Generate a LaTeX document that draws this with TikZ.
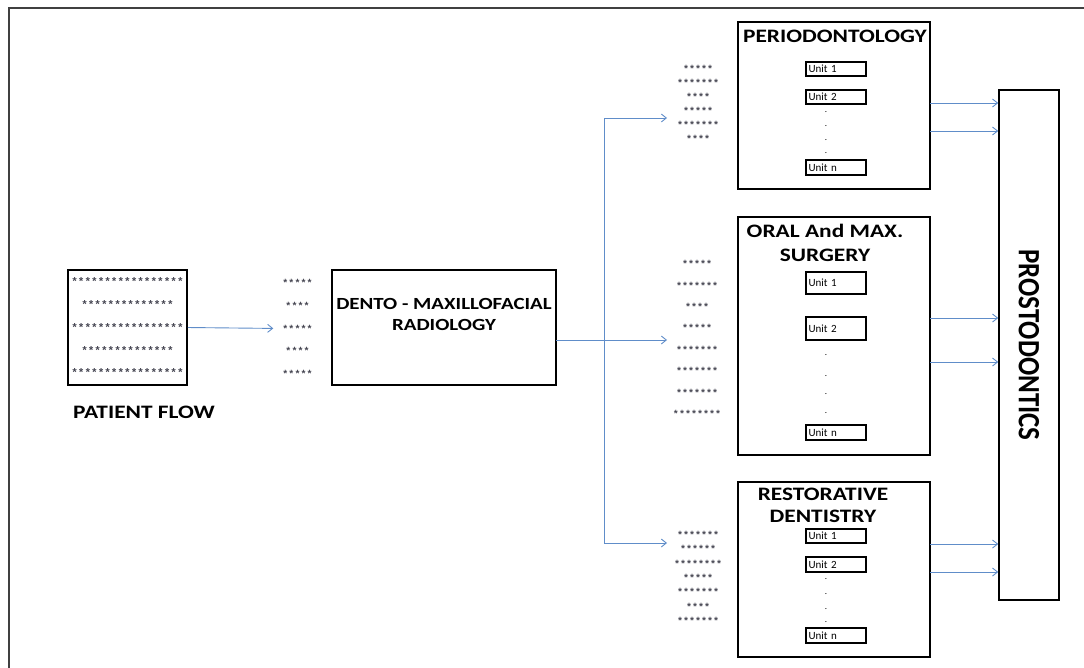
\documentclass[tikz,border=0pt]{standalone}
\usepackage{fontspec}
\usepackage{graphicx}
\setmainfont{Carlito}
\newfontfamily\starfont{Liberation Mono}
\usetikzlibrary{arrows.meta}
\definecolor{flowblue}{RGB}{96,141,201}
\definecolor{stargray}{RGB}{70,70,82}

\begin{document}
\begin{tikzpicture}[scale=0.3514]\tikzstyle{every node}+=[inner sep=0pt]
	  \tikzstyle{box}=[draw=black, line width=1.6pt, rectangle]
	  \tikzstyle{unit}=[draw=black, line width=1.2pt, rectangle, minimum width=60pt, text width=55pt, inner xsep=2.5pt, align=left, font=\fontsize{11}{11}\selectfont]
	  \tikzstyle{title}=[align=center, xscale=1.23, font=\bfseries\fontsize{19}{24}\selectfont]
	  \tikzstyle{stars}=[align=center, text=stargray]
	  \tikzstyle{flow}=[draw=flowblue, line width=0.9pt, -{Straight Barb[length=5pt,width=8pt]}]
	  \useasboundingbox (0,0) rectangle (108.4,-66.8);
	  \draw [line width=1.6pt, black!75] (108.4,-0.8) -- (0.9,-0.8) -- (0.9,-66.8);
	  % patient flow
	  \node [box, minimum width=119pt, minimum height=115pt, stars, font=\starfont\bfseries\fontsize{11}{22.75}\selectfont] (patient) at (12.75,-32.75)
	    {*****************\\**************\\*****************\\**************\\*****************};
	  \node [anchor=west, xscale=1.23, font=\bfseries\fontsize{19}{24}\selectfont] (pflabel) at (7.3,-41.2) {PATIENT FLOW};
	  \node [stars, font=\starfont\bfseries\fontsize{10}{22.75}\selectfont] (waitq) at (29.75,-32.85)
	    {*****\\****\\*****\\****\\*****};
	  % radiology
	  \node [box, minimum width=224pt, minimum height=115pt] (radio) at (44.4,-32.75) {};
	  \node [title, font=\bfseries\fontsize{17}{21}\selectfont] (radiot) at (44.4,-31.4) {DENTO - MAXILLOFACIAL\\RADIOLOGY};
	  % departments
	  \node [box, minimum width=192pt, minimum height=167pt] (perio) at (83.4,-10.55) {};
	  \node [title] (periot) at (83.5,-3.6) {PERIODONTOLOGY};
	  \node [box, minimum width=192pt, minimum height=238pt] (oral) at (83.4,-33.6) {};
	  \node [title] (oralt) at (82.5,-24.25) {ORAL And MAX.\\SURGERY};
	  \node [box, minimum width=192pt, minimum height=175pt] (resto) at (83.4,-56.95) {};
	  \node [title, font=\bfseries\fontsize{19}{22}\selectfont] (restot) at (82.3,-50.5) {RESTORATIVE\\DENTISTRY};
	  \node [box, minimum width=60pt, minimum height=510pt] (prosto) at (102.9,-34.5) {};
	  \node [rotate=-90, font=\bfseries\fontsize{31}{31}\selectfont] (prostot) at (102.9,-34.5) {\scalebox{0.87}[1]{PROSTODONTICS}};
	  % units
	  \node [unit, minimum height=14pt] (p1) at (83.6,-6.9) {Unit 1};
	  \node [unit, minimum height=14pt] (p2) at (83.6,-9.7) {Unit 2};
	  \node [unit, minimum height=15pt] (pn) at (83.6,-16.75) {Unit n};
	  \node [unit, minimum height=22pt] (o1) at (83.6,-28.3) {Unit 1};
	  \node [unit, minimum height=23pt] (o2) at (83.6,-32.85) {Unit 2};
	  \node [unit, minimum height=15pt] (on) at (83.6,-43.25) {Unit n};
	  \node [unit, minimum height=14pt] (r1) at (83.6,-53.6) {Unit 1};
	  \node [unit, minimum height=15pt] (r2) at (83.6,-56.45) {Unit 2};
	  \node [unit, minimum height=15pt] (rn) at (83.6,-63.55) {Unit n};
	  \foreach \y in {11.2,12.6,14.0,15.3,35.5,37.6,39.4,41.3,57.9,59.4,60.9,62.2}
	    \node [anchor=base, font=\fontsize{9}{9}\selectfont] at (82.6,-\y) {.};
	  % queues
	  \node [stars, font=\starfont\bfseries\fontsize{10}{14}\selectfont] (perioq) at (69.8,-10.4)
	    {*****\\*******\\****\\*****\\*******\\****};
	  \node [stars, font=\starfont\bfseries\fontsize{10}{21.4}\selectfont] (oralq) at (69.7,-33.9)
	    {*****\\*******\\****\\*****\\*******\\*******\\*******\\********};
	  \node [stars, font=\starfont\bfseries\fontsize{10}{14.33}\selectfont] (restoq) at (69.8,-57.8)
	    {*******\\******\\********\\*****\\*******\\****\\*******};
	  % connectors
	  \coordinate (r0) at (55.6,-34.0);
	  \coordinate (branch) at (60.4,-34.0);
	  \coordinate (q1) at (66.7,-11.8);
	  \coordinate (q2) at (66.7,-34.0);
	  \coordinate (q3) at (66.7,-54.3);
	  \draw [flow, shorten >=9pt] (patient.east) -- (waitq.west);
	  \draw [flow] (r0) -- (q2);
	  \draw [flow] (branch) |- (q1);
	  \draw [flow] (branch) |- (q3);
	  \coordinate (a1) at (93.0,-10.3);
	  \coordinate (a2) at (93.0,-13.1);
	  \coordinate (a3) at (93.0,-31.8);
	  \coordinate (a4) at (93.0,-36.2);
	  \coordinate (a5) at (93.0,-54.4);
	  \coordinate (a6) at (93.0,-57.2);
	  \foreach \a in {a1,a2,a3,a4,a5,a6}
	    \draw [flow] (\a) -- (\a -| prosto.west);
	\end{tikzpicture}
\end{document}
